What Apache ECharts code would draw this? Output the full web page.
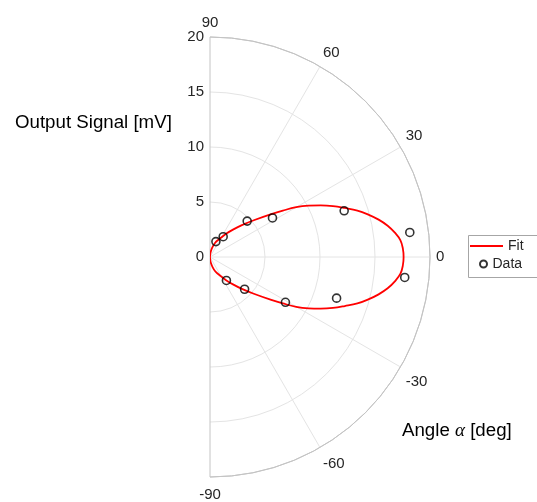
<!DOCTYPE html>
<html>
<head>
<meta charset="utf-8">
<style>
  html, body { margin: 0; padding: 0; background: #fff; }
  #chart { width: 537px; height: 502px; }
</style>
<script src="https://cdn.jsdelivr.net/npm/echarts@6/dist/echarts.min.js"></script>
</head>
<body>
<div id="chart"></div>
<script>
// Measured sensor output vs. incidence angle
const dataAngles = [69, 57, 44, 32, 19, 7, -6, -18, -31, -43, -55];
const dataSignal = [1.5, 2.2, 4.7, 6.7, 12.9, 18.3, 17.8, 12.1, 8.0, 4.3, 2.6];

// Fitted response curve: every 5 degrees on the flanks, every 2.5 degrees around the main lobe
const fitAngles = [-90, -85, -80, -75, -70, -65, -60, -55, -50, -45, -40, -35,
                   -32.5, -30, -27.5, -25, -22.5, -20, -17.5, -15, -12.5, -10, -7.5, -5, -2.5,
                   0, 2.5, 5, 7.5, 10, 12.5, 15, 17.5, 20, 22.5, 25, 27.5, 30, 32.5,
                   35, 40, 45, 50, 55, 60, 65, 70, 75, 80, 85, 90];
const fitSignal = [0, 0.3, 0.62, 1.0, 1.38, 1.68, 2.05, 2.6, 3.25, 4.1, 5.2, 6.8,
                   7.85, 9.05, 10.1, 11.1, 12.1, 13.04, 14.05, 14.9, 15.7, 16.4, 16.95, 17.38, 17.55,
                   17.6, 17.55, 17.38, 16.95, 16.4, 15.7, 14.9, 14.05, 13.04, 12.1, 11.1, 10.1, 9.05, 7.85,
                   6.8, 5.2, 4.1, 3.25, 2.6, 2.05, 1.68, 1.38, 1.0, 0.62, 0.3, 0];

// Axis ticks
const radiusTicks = { min: 0, max: 20, step: 5 };
const angleTicks = { min: -90, max: 90, step: 30 };

const ink = '#262626';
const gridLight = '#e4e4e4';
const gridEdge = '#c4c4c4';
const font = 'Liberation Sans, Arial, Helvetica, sans-serif';
const center = [210, 257];
const outerRadius = 220;

const chart = echarts.init(document.getElementById('chart'));
chart.setOption({
  animation: false,
  backgroundColor: '#ffffff',
  // polar 0 holds the grid and the data; polar 1 only carries the radius labels up the 90° edge
  polar: [
    { center: center, radius: outerRadius },
    { center: center, radius: outerRadius }
  ],
  angleAxis: [
    {
      polarIndex: 0,
      type: 'value',
      min: angleTicks.min,
      max: angleTicks.max,
      interval: angleTicks.step,
      startAngle: -90,
      endAngle: 90,
      clockwise: false,
      inverse: false,
      axisLine: { show: true, lineStyle: { color: gridEdge, width: 1 } },
      axisTick: { show: false },
      axisLabel: {
        color: ink, fontSize: 15, fontFamily: font, margin: 6,
        formatter: v => (v < 0 ? '{lo|' + v + '}' : v > 0 ? '{hi|' + v + '}' : String(v)),
        rich: {
          lo: { color: ink, fontSize: 15, fontFamily: font, padding: [4, 0, 0, 0] },
          hi: { color: ink, fontSize: 15, fontFamily: font, padding: [0, 0, 1, 0] }
        }
      },
      splitLine: {
        show: true,
        lineStyle: { color: [gridEdge, gridLight, gridLight, gridLight, gridLight, gridLight, gridEdge], width: 1 }
      }
    },
    {
      polarIndex: 1,
      type: 'value',
      min: angleTicks.min,
      max: angleTicks.max,
      interval: angleTicks.step,
      startAngle: 90,
      endAngle: -90,
      clockwise: false,
      inverse: true,
      axisLine: { show: false },
      axisTick: { show: false },
      axisLabel: { show: false },
      splitLine: { show: false }
    }
  ],
  radiusAxis: [
    {
      polarIndex: 0,
      type: 'value',
      min: radiusTicks.min,
      max: radiusTicks.max,
      interval: radiusTicks.step,
      axisLine: { show: false },
      axisTick: { show: false },
      axisLabel: { show: false },
      splitLine: {
        show: true,
        lineStyle: { color: [gridLight, gridLight, gridLight, gridLight, gridEdge], width: 1 }
      }
    },
    {
      polarIndex: 1,
      type: 'value',
      min: radiusTicks.min,
      max: radiusTicks.max,
      interval: radiusTicks.step,
      axisLine: { show: false },
      axisTick: { show: false },
      axisLabel: { color: ink, fontSize: 15, fontFamily: font, margin: 6 },
      splitLine: { show: false }
    }
  ],
  legend: [
    {
      orient: 'vertical',
      left: 470,
      top: 239,
      padding: 0,
      itemWidth: 33,
      itemHeight: 12,
      symbolKeepAspect: true,
      textStyle: { color: ink, fontSize: 14, fontFamily: font },
      data: [{ name: 'Fit', icon: 'path://M0,0 H18 V1 H0 Z' }]
    },
    {
      orient: 'vertical',
      left: 479,
      top: 257,
      padding: 0,
      itemWidth: 8,
      itemHeight: 7,
      textStyle: { color: ink, fontSize: 14, fontFamily: font },
      data: [{ name: 'Data' }]
    }
  ],
  graphic: [
    {
      type: 'rect', left: 468, top: 235, z: -1, silent: true,
      shape: { width: 90, height: 42 },
      style: { fill: '#ffffff', stroke: '#a6a6a6', lineWidth: 1 }
    },
    {
      type: 'text', left: 15, top: 113,
      style: { text: 'Output Signal [mV]', fill: '#000', font: '18.7px ' + font }
    },
    {
      type: 'text', left: 402, top: 421,
      style: {
        text: 'Angle {a|α} [deg]',
        fill: '#000',
        font: '18.7px ' + font,
        rich: { a: { fontFamily: 'Liberation Serif, DejaVu Serif, serif', fontStyle: 'italic', fontSize: 19, fill: '#000' } }
      }
    }
  ],
  series: [
    {
      name: 'Fit',
      type: 'line',
      coordinateSystem: 'polar',
      polarIndex: 0,
      data: fitAngles.map((a, i) => [fitSignal[i], a]),
      smooth: 0.4,
      symbol: 'none',
      clip: false,
      lineStyle: { color: '#ff0000', width: 1.8 },
      itemStyle: { color: '#ff0000' },
      z: 3
    },
    {
      name: 'Data',
      type: 'scatter',
      coordinateSystem: 'polar',
      polarIndex: 0,
      data: dataAngles.map((a, i) => [dataSignal[i], a]),
      symbol: 'circle',
      symbolSize: 8,
      itemStyle: { color: 'rgba(255,255,255,0)', borderColor: '#000', borderWidth: 1.6 },
      z: 4
    }
  ]
});
</script>
</body>
</html>
